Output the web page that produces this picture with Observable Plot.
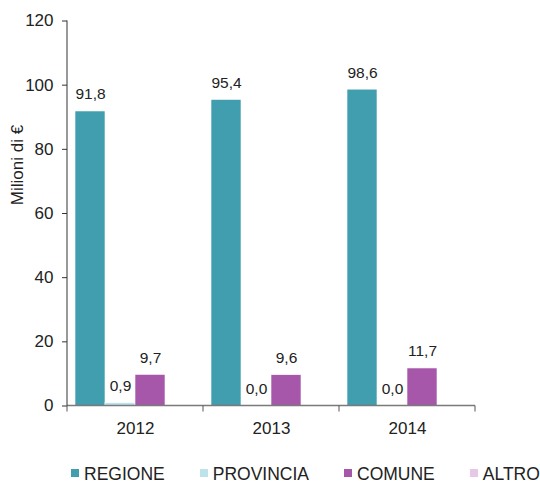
<!DOCTYPE html>
<html><head><meta charset="utf-8">
<script src="https://cdn.jsdelivr.net/npm/d3@7"></script>
<script src="https://cdn.jsdelivr.net/npm/@observablehq/plot@0.6"></script>
<style>
body{margin:0;background:#fff;font-family:"Liberation Sans",Arial,sans-serif}
#chart{position:relative;width:540px;height:486px;overflow:hidden}
#legend{position:absolute;top:464px;left:71px;display:flex;align-items:center;line-height:20px;font-size:17.5px;color:#222;white-space:nowrap}
#legend .item{display:flex;align-items:center;margin-right:35px}
#legend .sw{width:8px;height:8px;margin-right:5px;position:relative;top:-1px}
</style>
</head><body><div id="chart"></div>
<script>
const years = ["2012", "2013", "2014"];
const series = ["REGIONE", "PROVINCIA", "COMUNE", "ALTRO"];
const colors = ["#409EAE", "#BEE2EA", "#A657AA", "#E6C8E6"];
const regione = [91.8, 95.4, 98.6];
const provincia = [0.9, 0.0, 0.0];
const comune = [9.7, 9.6, 11.7];
const altro = [0, 0, 0];
const yTicks = [0, 20, 40, 60, 80, 100, 120];
const yLabel = "Milioni di €";

const values = [regione, provincia, comune, altro];
const data = [];
years.forEach((yr, i) => series.forEach((s, j) => data.push({year: yr, series: s, value: values[j][i]})));
const fmt = d3.format(".1f");

const plot = Plot.plot({
  width: 540, height: 450,
  marginTop: 20.5, marginBottom: 44.5, marginLeft: 66, marginRight: 64.7,
  style: {fontFamily: "Liberation Sans, Arial, sans-serif", fontSize: "16px", color: "#222", background: "#fff"},
  fx: {domain: years, padding: 0, label: null},
  x: {domain: series, paddingInner: 0, paddingOuter: 0.225, axis: null},
  y: {domain: [0, 120], axis: null},
  color: {domain: series, range: colors},
  marks: [
    Plot.barY(data, {fx: "year", x: "series", y: "value", fill: "series", stroke: "white", strokeWidth: 0.6}),
    Plot.text(data.filter(d => d.series !== "ALTRO"), {
      fx: "year", x: "series", y: "value",
      text: d => fmt(d.value).replace(".", ","),
      dy: -12, lineAnchor: "bottom", fontSize: 15.5, fill: "#222"
    }),
    Plot.axisY({ticks: yTicks, tickSize: 5, tickPadding: 9, fontSize: 17, tickFormat: d => d, label: null, stroke: "#333", fill: "#222"}),
    Plot.axisFx({anchor: "bottom", tickSize: 0, tickPadding: 16, fontSize: 17, label: null, fill: "#222"})
  ]
});

const svg = d3.select(plot);
const fx = plot.scale("fx");
const ys = plot.scale("y");
const y0 = ys.apply(0), y1 = ys.apply(120);
const bounds = years.map(d => fx.apply(d)).concat([fx.apply(years[years.length - 1]) + fx.bandwidth]);
const g = svg.append("g");
g.append("line").attr("x1", bounds[0]).attr("x2", bounds[bounds.length - 1]).attr("y1", y0).attr("y2", y0)
  .attr("stroke", "#7a7a7a").attr("stroke-width", 1.5);
bounds.forEach(b => g.append("line").attr("x1", b).attr("x2", b).attr("y1", y0).attr("y2", y0 + 6)
  .attr("stroke", "#555").attr("stroke-width", 1));
g.append("line").attr("x1", bounds[0]).attr("x2", bounds[0]).attr("y1", y1).attr("y2", y0)
  .attr("stroke", "#333").attr("stroke-width", 1);
g.append("text").attr("transform", "translate(23,165) rotate(-90)").attr("text-anchor", "middle")
  .attr("font-size", 17).attr("fill", "#222").text(yLabel);

const chart = document.getElementById("chart");
chart.appendChild(plot);
const legend = document.createElement("div");
legend.id = "legend";
series.forEach((s, i) => {
  const it = document.createElement("div"); it.className = "item";
  const sw = document.createElement("div"); sw.className = "sw"; sw.style.background = colors[i];
  const t = document.createElement("span"); t.textContent = s;
  it.appendChild(sw); it.appendChild(t); legend.appendChild(it);
});
chart.appendChild(legend);
</script>
</body></html>
